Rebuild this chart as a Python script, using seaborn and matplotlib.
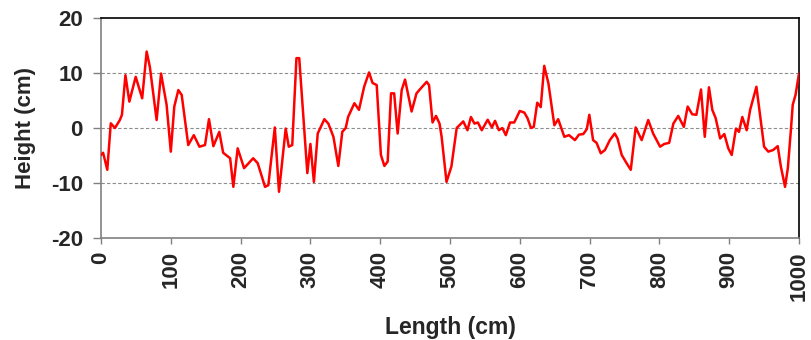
import matplotlib
matplotlib.use("Agg")
import matplotlib.pyplot as plt
import seaborn as sns
import pandas as pd

# Surface profile: position along the track and measured height
length_cm = [0, 3, 9, 14, 20, 27, 30, 35, 40.6, 49.7, 59, 65.4, 70, 79.7, 86, 94, 100, 105,
             110.8, 115.6, 125, 133, 141, 149, 154.7, 161, 169.5, 175, 185, 189.6, 195.8,
             205, 218, 224.5, 235, 239.7, 249, 255, 264.6, 269, 274, 280, 284, 295.6, 300,
             305, 310.5, 320, 325.7, 333, 340, 345.7, 350.6, 354, 363, 369.6, 377, 384, 389,
             395, 401, 406, 410.7, 415.5, 420, 425, 430.8, 435.6, 445, 452, 459.5, 466.6,
             470, 475, 480, 485, 488, 495, 502, 509.6, 519, 525, 530, 535, 540, 545.5, 554,
             560, 564.5, 570, 575, 580, 586, 592, 600, 606.5, 611, 616, 620, 625, 630, 635,
             641, 649.5, 655, 663.8, 670.5, 679, 684.8, 691, 696, 699.6, 705, 710, 716, 722,
             729, 736, 740, 746, 753, 759, 766, 774.6, 784, 791, 801, 807, 814, 820, 827,
             835, 840.5, 847, 853, 859.6, 865, 871, 875.8, 880.6, 887, 893, 898.7, 903.6,
             909.7, 914, 918.8, 925, 930, 939, 950, 956, 963, 969.5, 974, 980, 984, 988.6,
             991, 995, 1000]
height_cm = [-4.9, -4.5, -7.6, 0.85, 0, 1.45, 2.4, 9.6, 4.8, 9.3, 5.4, 13.9, 11.1, 1.45, 9.9,
             4.2, -4.3, 3.9, 6.9, 6, -3.1, -1.3, -3.4, -3.1, 1.6, -3.3, -0.7, -4.5, -5.5,
             -10.7, -3.7, -7.3, -5.5, -6.4, -10.7, -10.4, 0.1, -11.6, -0.1, -3.4, -3.1, 12.7,
             12.7, -8.2, -2.9, -9.8, -1, 1.6, 0.8, -1.6, -6.9, -0.7, 0, 2, 4.5, 3.3, 7.5,
             10.1, 8.2, 7.8, -4.9, -6.9, -6.1, 6.3, 6.3, -1, 6.9, 8.8, 3, 6.3, 7.4, 8.4, 7.8,
             1, 2.2, 0.8, -1.6, -9.8, -7, 0, 1.2, -0.4, 2, 0.8, 1, -0.4, 1.5, 0.1, 1.3, -0.4,
             0, -1.3, 1, 1, 3.1, 2.8, 1.8, 0, 0.2, 4.6, 3.8, 11.3, 8.1, 0.5, 1.6, -1.6, -1.3,
             -2.2, -1.2, -1.1, -0.2, 2.4, -2.2, -2.7, -4.6, -4, -2.2, -1, -1.9, -4.9, -6.4,
             -7.6, 0.1, -2.2, 1.45, -1, -3.4, -2.9, -2.7, 0.8, 2.2, 0.2, 3.9, 2.5, 2.4, 7,
             -1.6, 7.4, 3.3, 1.8, -1.9, -1.1, -3.7, -4.9, -0.1, -0.7, 2, -0.4, 3.3, 7.5,
             -3.4, -4.3, -4, -3.3, -7, -10.7, -7.3, 0, 4.2, 6, 9.9]

x_ticks = [0, 100, 200, 300, 400, 500, 600, 700, 800, 900, 1000]
y_ticks = [-20, -10, 0, 10, 20]
grid_levels = [-10, 0, 10]

sns.set_theme(style="white")
plt.rcParams["font.family"] = ["Liberation Sans", "DejaVu Sans"]
plt.rcParams["font.weight"] = "bold"

df = pd.DataFrame({"Length (cm)": length_cm, "Height (cm)": height_cm})

fig = plt.figure(figsize=(8.11, 3.40), dpi=100)
ax = fig.add_axes([101 / 811, 1 - 238 / 340, 698 / 811, 220 / 340])

for lvl in grid_levels:
    ax.axhline(lvl, color="#8c8c8c", linestyle=(0, (3, 2)), linewidth=0.8, zorder=1)

sns.lineplot(data=df, x="Length (cm)", y="Height (cm)", color="#ff0000",
             linewidth=1.8, sort=False, ax=ax, zorder=3,
             solid_joinstyle="round", solid_capstyle="round")

ax.set_xlim(0, 1000)
ax.set_ylim(-20, 20)
ax.set_xticks(x_ticks)
ax.set_yticks(y_ticks)
ax.set_xticklabels([str(v) for v in x_ticks], rotation=90, fontsize=16, fontweight="bold")
ax.set_yticklabels([str(v) for v in y_ticks], fontsize=16, fontweight="bold")
ax.tick_params(axis="y", direction="out", length=6, width=1, color="#808080",
               left=True, pad=7)
ax.tick_params(axis="x", direction="out", length=4.5, width=1, color="#808080",
               bottom=True, pad=5)

ax.set_xlabel("Length (cm)", fontsize=16.5, fontweight="bold")
ax.set_ylabel("Height (cm)", fontsize=16, fontweight="bold")
ax.xaxis.set_label_coords(0.5, -0.355)
ax.xaxis.label.set_verticalalignment("top")
ax.yaxis.set_label_coords(-0.108, 0.5)
ax.yaxis.label.set_verticalalignment("center")

for side in ("left", "bottom"):
    ax.spines[side].set_color("#808080")
    ax.spines[side].set_linewidth(1.2)
for side in ("top", "right"):
    ax.spines[side].set_color("#000000")
    ax.spines[side].set_linewidth(1.2)

fig.savefig("out.png", dpi=100)
